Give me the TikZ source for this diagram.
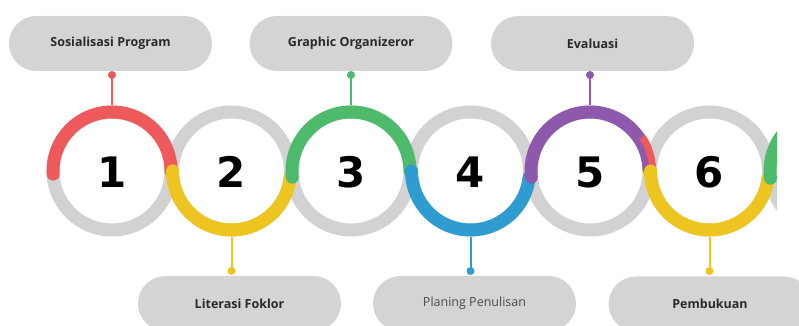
\documentclass[tikz,border=0pt]{standalone}
\usepackage{fontspec}
\setmainfont{Open Sans}
\newfontfamily\numfont{DejaVu Sans}
\definecolor{cred}{HTML}{EE5A5B}
\definecolor{cyel}{HTML}{EEC421}
\definecolor{cgrn}{HTML}{4DBA6C}
\definecolor{cblu}{HTML}{2E9CD0}
\definecolor{cpur}{HTML}{8E58AC}
\definecolor{cring}{HTML}{D2D2D2}
\definecolor{cbox}{HTML}{D4D4D4}
\definecolor{ctxt}{HTML}{2A2A2A}
\definecolor{ctxtl}{HTML}{4A4A4A}
\begin{document}
\begin{tikzpicture}[x=1pt,y=1pt,
  box/.style={fill=cbox, draw=none, minimum width=203pt, minimum height=55pt,
    rounded corners=27.5pt, inner sep=0pt, font=\fontsize{12.5}{14}\selectfont\bfseries, text=ctxt},
  num/.style={circle, minimum size=131pt, inner sep=0pt},
  numtxt/.style={font=\numfont\fontsize{42}{42}\selectfont\bfseries, text=black},
  ringg/.style={draw=cring, line width=13pt},
  arcc/.style={line width=13pt, line cap=round},
  stem/.style={line width=2pt},
  dotn/.style={circle, minimum size=8pt, inner sep=0pt}]
\clip (0,0) rectangle (799,326);
% boxes
\node[box] (b1) at (110.5,282.5) {Sosialisasi Program};
\node[box] (b3) at (351,282.5) {Graphic Organizeror};
\node[box] (b5) at (592.5,282.5) {Evaluasi};
\node[box] (b2) at (239.5,22.5) {Literasi Foklor};
\node[box, font=\fontsize{12.5}{14}\selectfont, text=ctxtl] (b4) at (474.5,22.5) {Planing Penulisan};
\node[box] (b6) at (710,22) {Pembukuan};
% circle nodes
\node[num] (n1) at (112,155) {};
\node[num] (n2) at (231.5,155) {};
\node[num] (n3) at (351,155) {};
\node[num] (n4) at (470.5,155) {};
\node[num] (n5) at (590,155) {};
\node[num] (n6) at (709.5,155) {};
\node[num] (n7) at (829,155) {};
% dots
\node[dotn, fill=cred] (d1) at (112,251) {};
\node[dotn, fill=cgrn] (d3) at (351,251) {};
\node[dotn, fill=cpur] (d5) at (590,251) {};
\node[dotn, fill=cyel] (d2) at (231.5,55) {};
\node[dotn, fill=cblu] (d4) at (470.5,55) {};
\node[dotn, fill=cyel] (d6) at (709.5,55) {};
% stems
\draw[stem, cred] (d1.center) -- (n1.north);
\draw[stem, cgrn] (d3.center) -- (n3.north);
\draw[stem, cpur] (d5.center) -- (n5.north);
\draw[stem, cyel] (d2.center) -- (n2.south);
\draw[stem, cblu] (d4.center) -- (n4.south);
\draw[stem, cyel] (d6.center) -- (n6.south);
% gray rings
\foreach \n in {n1,n2,n3,n4,n5,n6} {\draw[ringg] (\n.center) circle[radius=59pt];}
\begin{scope}
\clip (0,0) rectangle (777,326);
\draw[ringg] (n7.center) circle[radius=59pt];
\end{scope}
% coloured arcs
\draw[arcc, cred] (n1.center) ++(183:59pt) arc[start angle=183, end angle=0, radius=59pt];
\draw[arcc, cyel] (n2.center) ++(180:59pt) arc[start angle=180, end angle=354, radius=59pt];
\draw[arcc, cgrn] (n3.center) ++(186:59pt) arc[start angle=186, end angle=0, radius=59pt];
\draw[arcc, cblu] (n4.center) ++(180:59pt) arc[start angle=180, end angle=354, radius=59pt];
\draw[arcc, cpur] (n5.center) ++(186:59pt) arc[start angle=186, end angle=2, radius=59pt];
\draw[line width=7pt, cred] (n5.center) ++(0:62.5pt) arc[start angle=0, end angle=33, radius=62.5pt];
\draw[arcc, cyel] (n6.center) ++(180:59pt) arc[start angle=180, end angle=353, radius=59pt];
\begin{scope}
\clip (0,0) rectangle (777,326);
\draw[arcc, cgrn] (n7.center) ++(187:59pt) arc[start angle=187, end angle=90, radius=59pt];
\end{scope}
% numbers
\foreach \n/\t in {n1/1,n2/2,n3/3,n4/4,n5/5,n6/6} {\node[numtxt] at ([yshift=-1pt]\n.center) {\t};}
\end{tikzpicture}
\end{document}
